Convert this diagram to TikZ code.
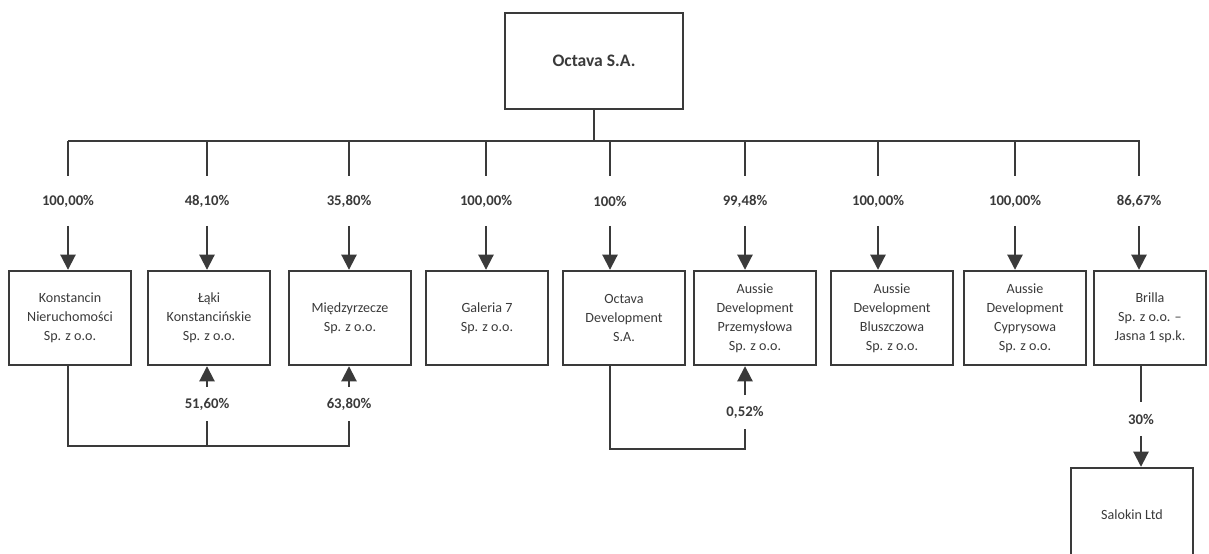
\documentclass[tikz,border=0pt]{standalone}
\usepackage{fontspec}
\setmainfont{Carlito}
\usepackage{tikz}
\usetikzlibrary{arrows.meta, positioning}
\definecolor{ink}{HTML}{3A3A3A}

\begin{document}
\begin{tikzpicture}[
                x=0.025cm, y=-0.025cm,
                font=\fontsize{10}{13.5}\selectfont,
                every node/.style={text=ink},
                box/.style={draw=ink, line width=1.7pt, minimum width=3.05cm, minimum height=2.35cm, inner sep=2pt, align=center},
                topbox/.style={draw=ink, line width=1.1pt, minimum width=4.45cm, minimum height=2.4cm, font=\fontsize{12.5}{15}\selectfont\bfseries},
                pct/.style={font=\fontsize{10.5}{13}\selectfont\bfseries, minimum height=1.225cm, inner sep=0pt},
                subpct/.style={font=\fontsize{10.5}{13}\selectfont\bfseries, minimum height=0.825cm, inner sep=0pt},
                link/.style={draw=ink, line width=1.4pt},
                own/.style={link, -{Triangle[width=0.38cm, length=0.38cm]}},
            ]

                \useasboundingbox (0,0) rectangle (1209,553);

                % Parent
                \node[topbox] (octava) at (594,61) {Octava S.A.};
                \coordinate (busL) at (68,141);
                \coordinate (busR) at (1140,141);
                \draw[link, line width=1.1pt] (octava.south) -- (octava.south |- busL);
                \draw[link, line width=1.7pt] (busL) -- (busR);

                % Shares
                \node[pct] (p1) at (68,201) {100,00\%};
                \node[pct] (p2) at (207,201) {48,10\%};
                \node[pct] (p3) at (349,201) {35,80\%};
                \node[pct] (p4) at (486,201) {100,00\%};
                \node[pct] (p5) at (610,201) {100\%};
                \node[pct] (p6) at (745,201) {99,48\%};
                \node[pct] (p7) at (878,201) {100,00\%};
                \node[pct] (p8) at (1015,201) {100,00\%};
                \node[pct] (p9) at (1139,201) {86,67\%};

                % Companies
                \node[box] (konstancin) at (70,318) {Konstancin\\Nieruchomości\\Sp. z o.o.};
                \node[box] (laki) at (209,318) {Łąki\\Konstancińskie\\Sp. z o.o.};
                \node[box] (miedzyrzecze) at (350,318) {Międzyrzecze\\Sp. z o.o.};
                \node[box] (galeria) at (487,318) {Galeria 7\\Sp. z o.o.};
                \node[box] (octavadev) at (624,318) {Octava\\Development\\S.A.};
                \node[box] (przemyslowa) at (755,318) {Aussie\\Development\\Przemysłowa\\Sp. z o.o.};
                \node[box] (bluszczowa) at (892,318) {Aussie\\Development\\Bluszczowa\\Sp. z o.o.};
                \node[box] (cyprysowa) at (1025,318) {Aussie\\Development\\Cyprysowa\\Sp. z o.o.};
                \node[box, minimum width=2.8cm] (brilla) at (1150,318) {Brilla\\Sp. z o.o. --\\Jasna 1 sp.k.};
                \node[box] (salokin) at (1132,515) {Salokin Ltd};

                % Bus drops and arrows
                \draw[link] (p1.north |- busL) -- (p1.north);
                \draw[link] (p2.north |- busL) -- (p2.north);
                \draw[link] (p3.north |- busL) -- (p3.north);
                \draw[link] (p4.north |- busL) -- (p4.north);
                \draw[link] (p5.north |- busL) -- (p5.north);
                \draw[link] (p6.north |- busL) -- (p6.north);
                \draw[link] (p7.north |- busL) -- (p7.north);
                \draw[link] (p8.north |- busL) -- (p8.north);
                \draw[link] (p9.north |- busL) -- (p9.north);
                \draw[own] (p1.south) -- (p1.south |- konstancin.north);
                \draw[own] (p2.south) -- (p2.south |- laki.north);
                \draw[own] (p3.south) -- (p3.south |- miedzyrzecze.north);
                \draw[own] (p4.south) -- (p4.south |- galeria.north);
                \draw[own] (p5.south) -- (p5.south |- octavadev.north);
                \draw[own] (p6.south) -- (p6.south |- przemyslowa.north);
                \draw[own] (p7.south) -- (p7.south |- bluszczowa.north);
                \draw[own] (p8.south) -- (p8.south |- cyprysowa.north);
                \draw[own] (p9.south) -- (p9.south |- brilla.north);

                % Cross holdings
                \coordinate (loopA) at (0,446);
                \coordinate (loopB) at (0,449);
                \node[subpct] (q1) at (207,404) {51,60\%};
                \node[subpct] (q2) at (349,404) {63,80\%};
                \node[subpct] (r1) at (745,412) {0,52\%};
                \node[subpct] (s1) at (1141,419) {30\%};

                \draw[link] (p1 |- konstancin.south) |- (q2.south |- loopA) -- (q2.south);
                \draw[link] (q1.south |- loopA) -- (q1.south);
                \draw[own] (q1.north) -- (q1.north |- laki.south);
                \draw[own] (q2.north) -- (q2.north |- miedzyrzecze.south);

                \draw[link] (p5 |- octavadev.south) |- (r1.south |- loopB) -- (r1.south);
                \draw[own] (r1.north) -- (r1.north |- przemyslowa.south);

                \draw[link] (s1.north |- brilla.south) -- (s1.north);
                \draw[own] (s1.south) -- (s1.south |- salokin.north);
            \end{tikzpicture}
\end{document}
